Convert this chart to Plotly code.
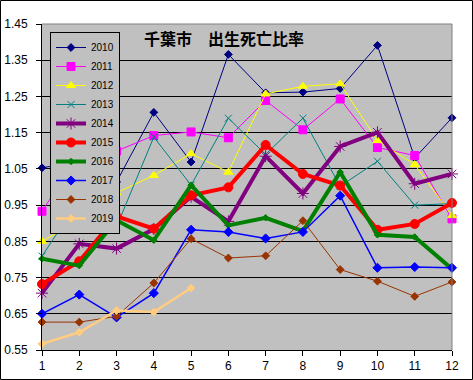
import plotly.graph_objects as go

months = list(range(1, 13))
y2010 = [1.053, 1.07, 1.014, 1.206, 1.069, 1.366, 1.26, 1.262, 1.272, 1.391, 1.08, 1.191]
y2011 = [0.933, 1.09, 1.099, 1.142, 1.152, 1.136, 1.239, 1.158, 1.243, 1.109, 1.087, 0.912]
y2012 = [0.85, 0.908, 0.984, 1.032, 1.092, 1.041, 1.257, 1.278, 1.285, 1.128, 1.062, 0.921]
y2013 = [0.809, 0.965, 0.89, 1.138, 1.005, 1.19, 1.09, 1.19, 1.002, 1.071, 0.95, 0.954]
y2014 = [0.707, 0.843, 0.830, 0.884, 0.973, 0.905, 1.085, 0.982, 1.112, 1.151, 1.009, 1.036]
y2015 = [0.732, 0.795, 0.919, 0.885, 0.977, 0.999, 1.116, 1.036, 1.004, 0.882, 0.898, 0.956]
y2016 = [0.802, 0.783, 0.908, 0.853, 1.005, 0.894, 0.915, 0.878, 1.041, 0.868, 0.862, 0.774]
y2017 = [0.650, 0.703, 0.640, 0.707, 0.882, 0.876, 0.858, 0.876, 0.976, 0.777, 0.779, 0.777]
y2018 = [0.627, 0.627, 0.643, 0.735, 0.857, 0.804, 0.81, 0.907, 0.772, 0.74, 0.698, 0.738]
y2019 = [0.567, 0.599, 0.659, 0.655, 0.721]

series_names = ["2010", "2011", "2012", "2013", "2014", "2015", "2016", "2017", "2018", "2019"]
series_values = [y2010, y2011, y2012, y2013, y2014, y2015, y2016, y2017, y2018, y2019]
x_tick_labels = [str(m) for m in months]
title_text = "千葉市　出生死亡比率"

styles = [
    dict(color="#000080", width=1, symbol="diamond", size=6),
    dict(color="#FF00FF", width=1, symbol="square", size=8),
    dict(color="#FFFF00", width=1, symbol="triangle-up", size=8),
    dict(color="#008080", width=1, symbol="x-thin-open", size=7),
    dict(color="#800080", width=4, symbol="asterisk-open", size=10),
    dict(color="#FF0000", width=4, symbol="circle", size=9),
    dict(color="#008000", width=4, symbol="diamond", size=5),
    dict(color="#0000FF", width=1.5, symbol="diamond", size=7),
    dict(color="#993300", width=1, symbol="diamond", size=6),
    dict(color="#FFCC80", width=2.5, symbol="diamond", size=6),
]

fig = go.Figure()
for name, vals, st in zip(series_names, series_values, styles):
    fig.add_trace(go.Scatter(
        x=months[:len(vals)], y=vals, name=name, mode="lines+markers",
        line=dict(color=st["color"], width=st["width"]),
        marker=dict(symbol=st["symbol"], size=st["size"], color=st["color"],
                    line=dict(color=st["color"], width=1)),
        cliponaxis=False,
    ))

L, R, T, B = 42, 21, 24, 30
W, H = 473, 380
pw, ph = W - L - R, H - T - B

fig.update_layout(
    width=W, height=H,
    margin=dict(l=L, r=R, t=T, b=B, pad=0, autoexpand=False),
    paper_bgcolor="white",
    plot_bgcolor="#C0C0C0",
    font=dict(family="Liberation Sans, Arial, sans-serif", size=12, color="black"),
    showlegend=True,
    legend=dict(
        x=(50 - L) / pw, y=(H - B - 32) / ph, xanchor="left", yanchor="top",
        bgcolor="#C0C0C0", bordercolor="black", borderwidth=1,
        font=dict(size=10, family="Liberation Sans, Arial, sans-serif"),
        tracegroupgap=0, itemwidth=30,
    ),
    xaxis=dict(
        range=[1, 12], tickvals=months, ticktext=x_tick_labels, automargin=False,
        showgrid=False, zeroline=False, showline=True, linecolor="black", linewidth=1,
        ticks="outside", ticklen=5, tickcolor="black",
    ),
    yaxis=dict(
        range=[0.55, 1.45], dtick=0.1, tick0=0.55, tickformat=".2f", automargin=False,
        showgrid=True, gridcolor="black", gridwidth=1, zeroline=False,
        showline=True, linecolor="black", linewidth=1,
        ticks="outside", ticklen=5, tickcolor="black", ticklabelstandoff=6,
    ),
    annotations=[dict(
        text="<b>" + title_text + "</b>", xref="paper", yref="paper",
        x=(223.5 - L) / pw, y=(H - B - 38) / ph, xanchor="center", yanchor="middle",
        showarrow=False, font=dict(size=16, family="Noto Sans CJK JP", color="black"),
    )],
    shapes=[
        dict(type="line", xref="paper", yref="paper", x0=0, x1=1, y0=1, y1=1,
             line=dict(color="#808080", width=1), layer="above"),
        dict(type="line", xref="paper", yref="paper", x0=1, x1=1, y0=0, y1=1,
             line=dict(color="#808080", width=1), layer="above"),
        dict(type="rect", xref="paper", yref="paper",
             x0=(0.5 - L) / pw, x1=(W - 0.5 - L) / pw,
             y0=-(B - 0.5) / ph, y1=(ph + T - 0.5) / ph,
             line=dict(color="black", width=1), fillcolor="rgba(0,0,0,0)", layer="above"),
    ],
)

fig.write_html(
    "out.html",
    config={"displayModeBar": False},
    post_script="document.body.style.margin='0';document.body.style.padding='0';",
)
